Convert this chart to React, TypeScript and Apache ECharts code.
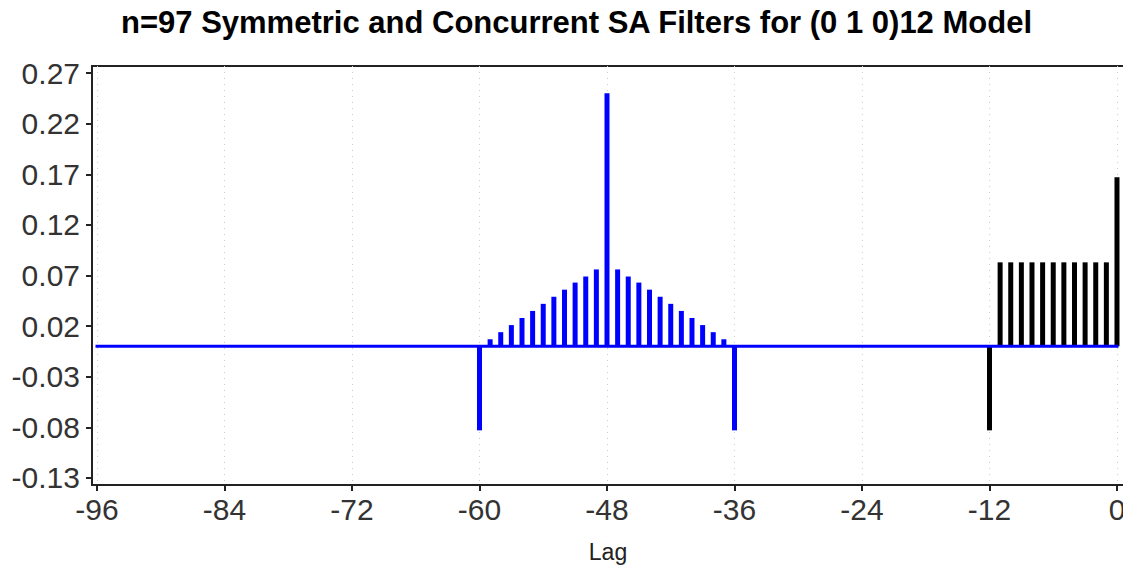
import React, { useEffect, useRef } from "react";
import * as echarts from "echarts";

const titleText = "n=97 Symmetric and Concurrent SA Filters for (0 1 0)12 Model";
const xTicks = [-96, -84, -72, -60, -48, -36, -24, -12, 0];
const yTicks = [-0.13, -0.08, -0.03, 0.02, 0.07, 0.12, 0.17, 0.22, 0.27];

const symLags = [-60, -59, -58, -57, -56, -55, -54, -53, -52, -51, -50, -49, -48, -47, -46, -45, -44, -43, -42, -41, -40, -39, -38, -37, -36];
const symValues = [-0.083, 0.007, 0.014, 0.021, 0.028, 0.035, 0.042, 0.049, 0.056, 0.063, 0.069, 0.076, 0.25, 0.076, 0.069, 0.063, 0.056, 0.049, 0.042, 0.035, 0.028, 0.021, 0.014, 0.007, -0.083];

const concLags = [-12, -11, -10, -9, -8, -7, -6, -5, -4, -3, -2, -1, 0];
const concValues = [-0.083, 0.083, 0.083, 0.083, 0.083, 0.083, 0.083, 0.083, 0.083, 0.083, 0.083, 0.083, 0.167];

const baselineLags = [-96, 0];
const baselineValues = [0, 0];

const tickFont = "'Liberation Sans', Arial, sans-serif";

export default function App() {
  const ref = useRef<HTMLDivElement>(null);
  useEffect(() => {
    if (!ref.current) return;
    const chart = echarts.init(ref.current, undefined, { renderer: "svg" });
    chart.setOption({
      animation: false,
      backgroundColor: "#ffffff",
      title: {
        text: titleText,
        left: 116,
        top: 2,
        textStyle: { fontFamily: "'Liberation Sans', Arial, sans-serif", fontWeight: "bold", fontSize: 31, color: "#000" },
      },
      grid: {
        left: 92,
        right: 7,
        top: 66,
        bottom: 92,
        show: true,
        borderColor: "#222",
        borderWidth: 2,
        backgroundColor: "transparent",
      },
      xAxis: {
        type: "value",
        min: -96.47,
        max: 0.66,
        name: "Lag",
        nameLocation: "middle",
        nameGap: 55,
        nameTextStyle: { fontFamily: tickFont, fontSize: 23, color: "#222" },
        axisLine: { show: true, onZero: false, lineStyle: { color: "#222", width: 2 } },
        axisTick: { show: true, length: 6, customValues: xTicks, lineStyle: { color: "#222", width: 2 } },
        axisLabel: {
          customValues: xTicks,
          margin: 9,
          fontFamily: tickFont,
          fontSize: 30,
          color: "#333",
          formatter: (v: number) => String(v),
        },
        splitLine: { show: true, lineStyle: { color: "#cccccc", type: [1, 5], width: 1 } },
      },
      yAxis: {
        type: "value",
        min: -0.137,
        max: 0.277,
        axisLine: { show: true, onZero: false, lineStyle: { color: "#222", width: 2 } },
        axisTick: { show: true, length: 6, customValues: yTicks, lineStyle: { color: "#222", width: 2 } },
        axisLabel: {
          customValues: yTicks,
          margin: 12,
          fontFamily: tickFont,
          fontSize: 30,
          color: "#333",
          formatter: (v: number) => v.toFixed(2),
        },
        splitLine: { show: false },
      },
      series: [
        {
          type: "bar",
          name: "Symmetric",
          data: symLags.map((x, i) => [x, symValues[i]]),
          barWidth: 5,
          barGap: "-100%",
          itemStyle: { color: "#0000ff" },
          z: 3,
        },
        {
          type: "bar",
          name: "Concurrent",
          data: concLags.map((x, i) => [x, concValues[i]]),
          barWidth: 5,
          barGap: "-100%",
          itemStyle: { color: "#000000" },
          z: 3,
        },
        {
          type: "line",
          name: "Baseline",
          data: baselineLags.map((x, i) => [x, baselineValues[i]]),
          showSymbol: false,
          lineStyle: { color: "#0000ff", width: 3, cap: "square" },
          z: 4,
        },
      ],
    });
    return () => chart.dispose();
  }, []);
  return <div ref={ref} style={{ width: 1131, height: 577, margin: -8 }} />;
}
